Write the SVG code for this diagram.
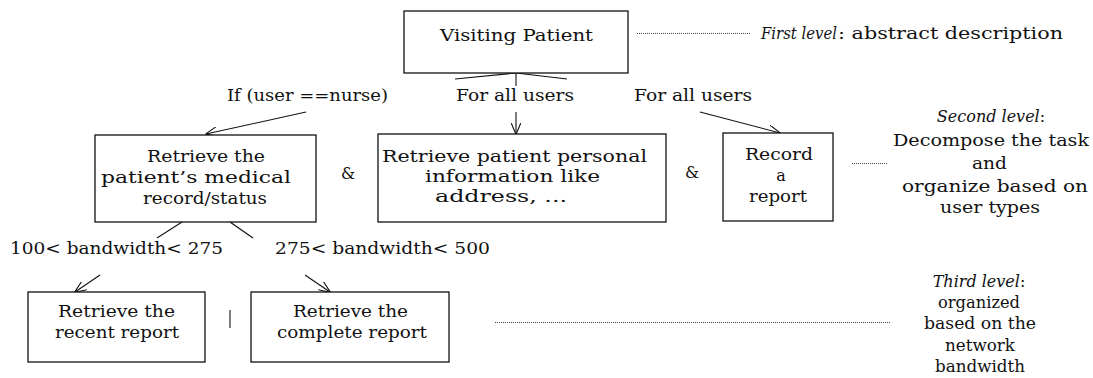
<svg xmlns="http://www.w3.org/2000/svg" width="1093" height="378" viewBox="0 0 1093 378">
<style>
  text { font-family: "DejaVu Serif", "Liberation Serif", serif; font-size: 16px; fill: #111; }
  .c { text-anchor: middle; }
  .i { font-style: italic; }
  .box { fill: #fff; stroke: #111; stroke-width: 1.3; }
  .ln { fill: none; stroke: #111; stroke-width: 1.1; }
  .dot { fill: none; stroke: #444; stroke-width: 1; stroke-dasharray: 1 1; }
</style>
<defs>
  <marker id="arr" viewBox="0 0 12 10" refX="11.5" refY="5" markerWidth="12" markerHeight="10" markerUnits="userSpaceOnUse" orient="auto">
    <path d="M0,0 L12,5 L0,10" fill="none" stroke="#111" stroke-width="1.1"/>
  </marker>
</defs>
<rect width="1093" height="378" fill="#fff"/>

<g id="connectors">
  <line class="ln" x1="516" y1="73" x2="455" y2="79"/>
  <line class="ln" x1="516" y1="73" x2="516" y2="86"/>
  <line class="ln" x1="516" y1="73" x2="567" y2="79"/>
  <line class="ln" x1="306" y1="112" x2="206" y2="134" marker-end="url(#arr)"/>
  <line class="ln" x1="516" y1="112" x2="516" y2="134" marker-end="url(#arr)"/>
  <line class="ln" x1="700" y1="112" x2="780" y2="133" marker-end="url(#arr)"/>
  <line class="ln" x1="182" y1="222" x2="157" y2="238"/>
  <line class="ln" x1="230" y1="222" x2="253" y2="238"/>
  <line class="ln" x1="100" y1="275" x2="75" y2="292" marker-end="url(#arr)"/>
  <line class="ln" x1="305" y1="275" x2="330" y2="292" marker-end="url(#arr)"/>
  <line class="dot" x1="637" y1="33.5" x2="750" y2="33.5"/>
  <line class="dot" x1="852" y1="163.5" x2="888" y2="163.5"/>
  <line class="dot" x1="495" y1="322.5" x2="890" y2="322.5"/>
  <text class="c" x="307.5" y="101" textLength="161" lengthAdjust="spacingAndGlyphs">If (user ==nurse)</text>
  <text class="c" x="515" y="101" textLength="118" lengthAdjust="spacingAndGlyphs">For all users</text>
  <text class="c" x="693" y="101" textLength="118" lengthAdjust="spacingAndGlyphs">For all users</text>
  <text class="c" x="116.5" y="254" textLength="213" lengthAdjust="spacingAndGlyphs">100&lt; bandwidth&lt; 275</text>
  <text class="c" x="382.5" y="254" textLength="215" lengthAdjust="spacingAndGlyphs">275&lt; bandwidth&lt; 500</text>
  <text class="c" x="348" y="179">&amp;</text>
  <text class="c" x="692" y="178">&amp;</text>
  <line class="ln" x1="230" y1="310" x2="230" y2="328"/>
</g>

<g id="visiting-patient">
  <rect class="box" x="404" y="11" width="224" height="62"/>
  <text class="c" x="516.5" y="41" textLength="153" lengthAdjust="spacingAndGlyphs">Visiting Patient</text>
</g>

<g id="retrieve-medical">
  <rect class="box" x="95" y="135" width="221" height="87"/>
  <text class="c" x="206" y="162" textLength="118" lengthAdjust="spacingAndGlyphs">Retrieve the</text>
  <text class="c" x="196" y="183" textLength="190" lengthAdjust="spacingAndGlyphs">patient’s medical</text>
  <text class="c" x="205" y="204" textLength="124" lengthAdjust="spacingAndGlyphs">record/status</text>
</g>

<g id="retrieve-personal">
  <rect class="box" x="378" y="134" width="288" height="88"/>
  <text class="c" x="514.5" y="162" textLength="265" lengthAdjust="spacingAndGlyphs">Retrieve patient personal</text>
  <text class="c" x="512.5" y="182" textLength="175" lengthAdjust="spacingAndGlyphs">information like</text>
  <text class="c" x="501" y="202" textLength="132" lengthAdjust="spacingAndGlyphs">address, ...</text>
</g>

<g id="record-report">
  <rect class="box" x="723" y="133" width="110" height="88"/>
  <text class="c" x="779" y="160" textLength="68" lengthAdjust="spacingAndGlyphs">Record</text>
  <text class="c" x="781" y="181">a</text>
  <text class="c" x="778" y="202" textLength="58" lengthAdjust="spacingAndGlyphs">report</text>
</g>

<g id="recent-report">
  <rect class="box" x="28" y="292" width="177" height="70"/>
  <text class="c" x="116.5" y="317" textLength="117" lengthAdjust="spacingAndGlyphs">Retrieve the</text>
  <text class="c" x="117" y="338" textLength="124" lengthAdjust="spacingAndGlyphs">recent report</text>
</g>

<g id="complete-report">
  <rect class="box" x="251" y="292" width="198" height="70"/>
  <text class="c" x="350.5" y="317" textLength="115" lengthAdjust="spacingAndGlyphs">Retrieve the</text>
  <text class="c" x="352" y="338" textLength="150" lengthAdjust="spacingAndGlyphs">complete report</text>
</g>

<g id="first-level">
  <text class="i" x="761" y="39" textLength="76" lengthAdjust="spacingAndGlyphs">First level</text>
  <text x="838" y="39" textLength="225" lengthAdjust="spacingAndGlyphs">: abstract description</text>
</g>

<g id="second-level">
  <text class="c" x="991" y="122"><tspan class="i">Second level</tspan>:</text>
  <text class="c" x="991" y="146" textLength="196" lengthAdjust="spacingAndGlyphs">Decompose the task</text>
  <text class="c" x="989.5" y="169" textLength="35" lengthAdjust="spacingAndGlyphs">and</text>
  <text class="c" x="995" y="192" textLength="186" lengthAdjust="spacingAndGlyphs">organize based on</text>
  <text class="c" x="990" y="213" textLength="100" lengthAdjust="spacingAndGlyphs">user types</text>
</g>

<g id="third-level">
  <text class="c" x="979" y="287"><tspan class="i">Third level</tspan>:</text>
  <text class="c" x="979" y="308" textLength="82" lengthAdjust="spacingAndGlyphs">organized</text>
  <text class="c" x="980" y="329" textLength="112" lengthAdjust="spacingAndGlyphs">based on the</text>
  <text class="c" x="980" y="351" textLength="70" lengthAdjust="spacingAndGlyphs">network</text>
  <text class="c" x="980" y="372" textLength="90" lengthAdjust="spacingAndGlyphs">bandwidth</text>
</g>
</svg>
